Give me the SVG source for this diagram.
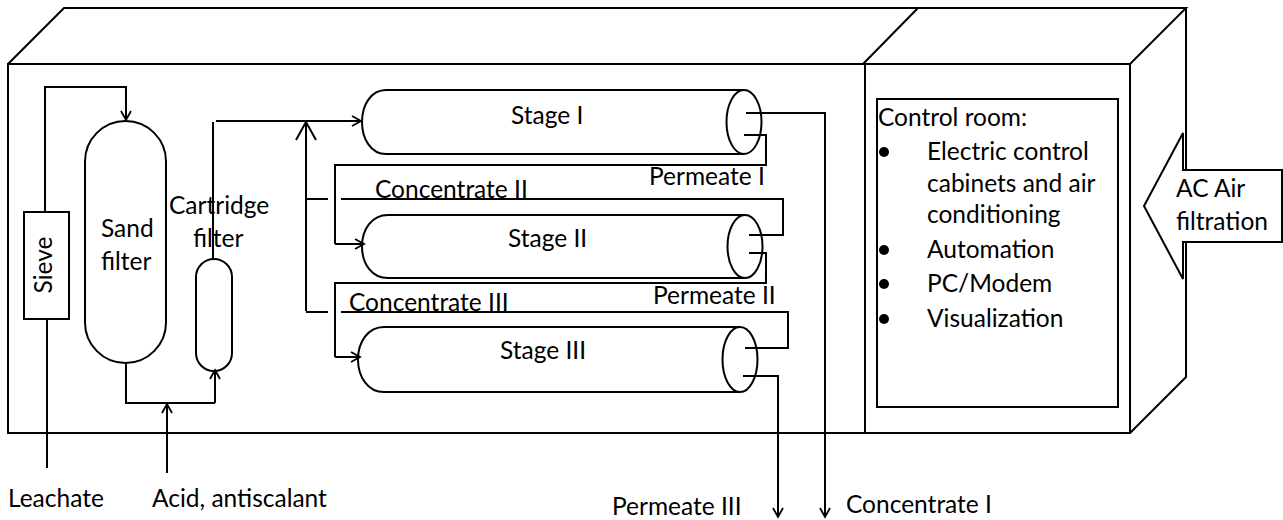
<svg xmlns="http://www.w3.org/2000/svg" width="1283" height="520" viewBox="0 0 1283 520">
<defs>
<marker id="arr" markerUnits="userSpaceOnUse" markerWidth="14" markerHeight="14" refX="11" refY="7" orient="auto"><path d="M2 2L11 7L2 12" fill="none" stroke="#000" stroke-width="1.800"/></marker>
<marker id="arrbig" markerUnits="userSpaceOnUse" markerWidth="22" markerHeight="24" refX="20" refY="12" orient="auto"><path d="M2 2L20 12L2 22" fill="none" stroke="#000" stroke-width="2"/></marker>
</defs>
<style>
.s{fill:none;stroke:#000;stroke-width:2}
.w{fill:#fff;stroke:#000;stroke-width:2}
.a{marker-end:url(#arr)}
text{font-family:Lato,"Open Sans","Liberation Sans",sans-serif;font-size:24.500px;fill:#000}
</style>
<g id="enclosure">
<path class="s" d="M8 64H1130V433H8ZM8 64L64 8H1186L1130 64M865 64V433M863 64L918 8M1186 8V377L1130 433"/>
</g>
<g id="connectors">
<path class="s a" d="M45 211V87H126V120"/>
<path class="s" d="M47 319V468"/>
<path class="s" d="M126 363V403H215"/>
<path class="s a" d="M215 403V370"/>
<path class="s a" d="M167 473V404"/>
<path class="s" d="M213 259V122"/>
<path class="s a" d="M216 121H361"/>
<path style="marker-end:url(#arrbig)" class="s" d="M306 311V122"/>
<path class="s" d="M306 199H328M341 199H783V235H749"/>
<path class="s" d="M306 312H328M341 312H788V348H745"/>
<path class="s" d="M744 135H766V165H335V244"/>
<path class="s a" d="M335 244H364"/>
<path class="s" d="M749 253H766V283H335V357"/>
<path class="s a" d="M335 357H360"/>
<path class="s a" d="M746 113H825V517"/>
<path class="s a" d="M743 376H778V517"/>
</g>
<g id="stage-1"><path class="s" d="M744 90H386C371 90 362 105 362 122C362 139 371 154 386 154H744"/><ellipse class="s" cx="744" cy="122" rx="17.500" ry="32"/><text x="511" y="124">Stage I</text></g>
<g id="stage-2"><path class="s" d="M745 215H388C372 215 362 229 362 246.500C362 264 372 278 388 278H745"/><ellipse class="s" cx="745" cy="246.500" rx="17.500" ry="31.500"/><text x="508" y="247">Stage II</text></g>
<g id="stage-3"><path class="s" d="M740 327H384C368 327 358 342 358 359.500C358 377 368 392 384 392H740"/><ellipse class="s" cx="740" cy="359.500" rx="17.500" ry="32.500"/><text x="500" y="359">Stage III</text></g>
<g id="sieve"><rect class="w" x="24" y="212" width="45" height="107"/><text text-anchor="middle" transform="translate(52 265) rotate(-90)">Sieve</text></g>
<g id="sand-filter"><rect class="s" x="85" y="121" width="81" height="242" rx="40.500"/><text x="101" y="237">Sand</text><text x="101" y="270">filter</text></g>
<g id="cartridge-filter"><rect class="s" x="196" y="259" width="36" height="112" rx="18"/><text x="169" y="214">Cartridge</text><text x="193" y="247">filter</text></g>
<g id="control-room"><rect class="s" x="877" y="99" width="241" height="308"/>
<text x="878" y="126">Control room:</text>
<circle cx="884" cy="152" r="5"/><circle cx="884" cy="250" r="5"/><circle cx="884" cy="284" r="5"/><circle cx="884" cy="319" r="5"/>
<text x="927" y="160">Electric control</text><text x="927" y="192">cabinets and air</text><text x="927" y="223">conditioning</text><text x="927" y="258">Automation</text><text x="927" y="292">PC/Modem</text><text x="927" y="327">Visualization</text></g>
<g id="ac-air"><path class="w" d="M1183 133L1144 206L1183 279V242H1282V170H1183Z"/><text x="1176" y="197">AC Air</text><text x="1176" y="230">filtration</text></g>
<g id="labels">
<text x="375" y="198">Concentrate II</text><text x="349" y="311">Concentrate III</text>
<text x="649" y="185">Permeate I</text><text x="653" y="304">Permeate II</text>
<text x="8" y="507">Leachate</text><text x="152" y="507">Acid, antiscalant</text><text x="612" y="515">Permeate III</text><text x="846" y="513">Concentrate I</text>
</g>
</svg>
